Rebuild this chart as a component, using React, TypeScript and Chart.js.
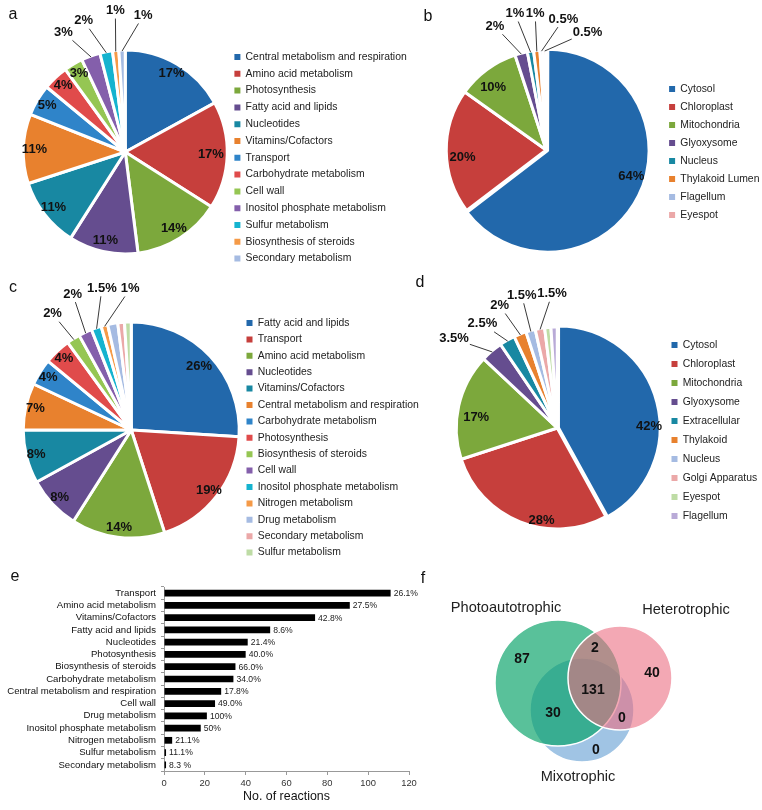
import React, { useEffect, useRef } from 'react';
import { Chart, registerables } from 'chart.js';

Chart.register(...registerables);

const FONT = "'Liberation Sans', Arial, Helvetica, sans-serif";
Chart.defaults.font.family = FONT;
Chart.defaults.color = '#222';

// ---------- colours ----------
const BLUE = '#2268ab';
const RED = '#c63f3c';
const GREEN = '#7ca83c';
const PURPLE = '#654d8f';
const TEAL = '#1888a2';
const ORANGE = '#e8812e';
const BLUE2 = '#2f84c9';
const RED2 = '#e04b4b';
const GREEN2 = '#95c653';
const PURPLE2 = '#845fab';
const CYAN = '#15b3cf';
const ORANGE2 = '#f59a47';
const PALEBLUE = '#a5bbe2';
const PALEPINK = '#eba8a8';
const PALEGREEN = '#bedca5';
const LAVENDER = '#b9aad7';

// ---------- panel a ----------
const A_CATEGORIES = [
  'Central metabolism and respiration', 'Amino acid metabolism', 'Photosynthesis',
  'Fatty acid and lipids', 'Nucleotides', 'Vitamins/Cofactors', 'Transport',
  'Carbohydrate metabolism', 'Cell wall', 'Inositol phosphate metabolism',
  'Sulfur metabolism', 'Biosynthesis of steroids', 'Secondary metabolism',
];
const A_PERCENT = [17, 17, 14, 11, 11, 11, 5, 4, 3, 3, 2, 1, 1];
const A_COLORS = [BLUE, RED, GREEN, PURPLE, TEAL, ORANGE, BLUE2, RED2, GREEN2, PURPLE2, CYAN, ORANGE2, PALEBLUE];

// ---------- panel b ----------
const B_COMPARTMENTS = ['Cytosol', 'Chloroplast', 'Mitochondria', 'Glyoxysome', 'Nucleus', 'Thylakoid Lumen', 'Flagellum', 'Eyespot'];
const B_PERCENT = [64, 20, 10, 2, 1, 1, 0.5, 0.5];
const B_COLORS = [BLUE, RED, GREEN, PURPLE, TEAL, ORANGE, PALEBLUE, PALEPINK];

// ---------- panel c ----------
const C_CATEGORIES = [
  'Fatty acid and lipids', 'Transport', 'Amino acid metabolism', 'Nucleotides',
  'Vitamins/Cofactors', 'Central metabolism and respiration', 'Carbohydrate metabolism',
  'Photosynthesis', 'Biosynthesis of steroids', 'Cell wall', 'Inositol phosphate metabolism',
  'Nitrogen metabolism', 'Drug metabolism', 'Secondary metabolism', 'Sulfur metabolism',
];
const C_PERCENT = [26, 19, 14, 8, 8, 7, 4, 4, 2, 2, 1.5, 1, 1.5, 1, 1];
const C_COLORS = [BLUE, RED, GREEN, PURPLE, TEAL, ORANGE, BLUE2, RED2, GREEN2, PURPLE2, CYAN, ORANGE2, PALEBLUE, PALEPINK, PALEGREEN];

// ---------- panel d ----------
const D_COMPARTMENTS = ['Cytosol', 'Chloroplast', 'Mitochondria', 'Glyoxysome', 'Extracellular', 'Thylakoid', 'Nucleus', 'Golgi Apparatus', 'Eyespot', 'Flagellum'];
const D_PERCENT = [42, 28, 17, 3.5, 2.5, 2, 1.5, 1.5, 1, 1];
const D_COLORS = [BLUE, RED, GREEN, PURPLE, TEAL, ORANGE, PALEBLUE, PALEPINK, PALEGREEN, LAVENDER];

// ---------- panel e ----------
const E_CATEGORIES = [
  'Transport', 'Amino acid metabolism', 'Vitamins/Cofactors', 'Fatty acid and lipids',
  'Nucleotides', 'Photosynthesis', 'Biosynthesis of steroids', 'Carbohydrate metabolism',
  'Central metabolism and respiration', 'Cell wall', 'Drug metabolism',
  'Inositol phosphate metabolism', 'Nitrogen metabolism', 'Sulfur metabolism', 'Secondary metabolism',
];
const E_REACTIONS = [111, 91, 74, 52, 41, 40, 35, 34, 28, 25, 21, 18, 4, 1, 1];
const E_PERCENT_LABELS = ['26.1%', '27.5%', '42.8%', '8.6%', '21.4%', '40.0%', '66.0%', '34.0%', '17.8%', '49.0%', '100%', '50%', '21.1%', '11.1%', '8.3 %'];
const E_TICKS = [0, 20, 40, 60, 80, 100, 120];

// ---------- panel f ----------
const VENN_SETS = ['Photoautotrophic', 'Heterotrophic', 'Mixotrophic'];
const VENN_CX = [0, 62, 24];
const VENN_CY = [0, 5, -27];
const VENN_R = [63, 52, 52];
const VENN_COLORS = ['rgba(0,160,100,0.65)', 'rgba(235,110,130,0.6)', 'rgba(97,157,210,0.6)'];
// regions: P only, H only, M only, P∩H, P∩M, H∩M, P∩H∩M
const VENN_COUNTS = [87, 40, 0, 2, 30, 0, 131];

// ---------- layout (annotation placement) ----------
type Place = Record<number, [number, number, boolean?]>;
const PLACE_A: Place = { 1: [0, 0.84], 9: [-7.5, 1.32, true], 10: [-6.8, 1.35, true], 11: [1.4, 1.39, true], 12: [9.3, 1.35, true] };
const PLACE_B: Place = { 0: [-10, 0.83], 1: [-4, 0.84], 2: [-4, 0.82], 3: [-8, 1.34, true], 4: [-3.8, 1.4, true], 5: [0.8, 1.37, true], 6: [10.2, 1.32, true], 7: [20.2, 1.25, true] };
const PLACE_C: Place = { 0: [0, 0.86], 8: [-1.7, 1.3, true], 9: [1.9, 1.37, true], 10: [7.2, 1.34, true], 11: [14, 1.31, true] };
const PLACE_D: Place = { 0: [14, 0.86], 1: [-12, 0.93], 2: [-5, 0.81], 3: [-8.7, 1.35, true], 4: [-6, 1.27, true], 5: [-3.6, 1.34, true], 6: [0.3, 1.36, true], 7: [7.7, 1.33, true] };

const VENN_COUNT_POS = [[-36, 24], [94, 10], [38, -67], [37, 35], [-5, -30], [64, -35], [35, -7]];
const VENN_TITLE_POS = [[-52, 75], [128, 73], [20, -94]];

const LETTERS: [string, number, number][] = [
  ['a', 13, 15], ['b', 428, 17], ['c', 13, 288], ['d', 420, 283], ['e', 15, 577], ['f', 423, 579],
];

function pieLabelPlugin(place: Place, defaultFactor: number, hidden: number[]) {
  return {
    id: 'pieLabels',
    afterDatasetsDraw(chart: any) {
      const ctx = chart.ctx;
      const meta = chart.getDatasetMeta(0);
      const values = chart.data.datasets[0].data;
      ctx.save();
      ctx.font = `bold 13px ${FONT}`;
      ctx.fillStyle = '#111';
      ctx.textAlign = 'center';
      ctx.textBaseline = 'middle';
      meta.data.forEach((el: any, i: number) => {
        if (hidden.includes(i)) return;
        const { x, y, startAngle, endAngle, outerRadius } = el.getProps(['x', 'y', 'startAngle', 'endAngle', 'outerRadius'], true);
        const off = (el.options && el.options.offset) || 0;
        const mid = (startAngle + endAngle) / 2;
        const cx = x + Math.cos(mid) * off;
        const cy = y + Math.sin(mid) * off;
        const p = place[i];
        const shift = p ? p[0] : 0;
        const f = p ? p[1] : defaultFactor;
        const outside = p ? !!p[2] : false;
        const a = mid + (shift * Math.PI) / 180;
        const lx = cx + Math.cos(a) * outerRadius * f;
        const ly = cy + Math.sin(a) * outerRadius * f;
        const text = values[i] + '%';
        if (outside) {
          const sx = cx + Math.cos(mid) * (outerRadius - 1);
          const sy = cy + Math.sin(mid) * (outerRadius - 1);
          const hw = ctx.measureText(text).width / 2 + 1;
          const hh = 8;
          const dx = sx - lx;
          const dy = sy - ly;
          const len = Math.hypot(dx, dy) || 1;
          const ux = dx / len;
          const uy = dy / len;
          const t = Math.min(Math.abs(ux) > 1e-6 ? hw / Math.abs(ux) : 1e9, Math.abs(uy) > 1e-6 ? hh / Math.abs(uy) : 1e9);
          ctx.beginPath();
          ctx.moveTo(sx, sy);
          ctx.lineTo(lx + ux * t, ly + uy * t);
          ctx.strokeStyle = '#222';
          ctx.lineWidth = 0.9;
          ctx.stroke();
        }
        ctx.fillText(text, lx, ly);
      });
      ctx.restore();
    },
  };
}

type PieProps = {
  left: number; top: number; width: number; height: number;
  labels: string[]; values: number[]; colors: string[]; offsets: number[];
  radius: number;
  cx: number; legendLeft: number; padTop: number; padBottom: number;
  legendPad: number; legendTitleH: number;
  place: Place; defaultFactor: number; hidden: number[];
};

function PiePanel(props: PieProps) {
  const ref = useRef<HTMLCanvasElement>(null);
  useEffect(() => {
    const p = props;
    const padLeft = 2 * p.cx - p.legendLeft;
    const chart = new Chart(ref.current as HTMLCanvasElement, {
      type: 'pie',
      data: {
        labels: p.labels,
        datasets: [{
          data: p.values,
          backgroundColor: p.colors,
          borderColor: '#ffffff',
          borderWidth: 3,
          offset: p.offsets,
        } as any],
      },
      options: {
        responsive: false,
        animation: false,
        events: [],
        radius: p.radius,
        layout: { padding: { left: padLeft, right: 0, top: p.padTop, bottom: p.padBottom }, autoPadding: false },
        plugins: {
          tooltip: { enabled: false },
          legend: {
            position: 'right',
            align: 'center',
            title: { display: true, text: ' ', font: { size: 1 }, padding: { top: p.legendTitleH - 1.2, bottom: 0 } },
            labels: {
              boxWidth: 6,
              boxHeight: 6,
              padding: p.legendPad,
              color: '#222',
              font: { size: 10.4, family: FONT },
              generateLabels: (c: any) =>
                c.data.labels.map((t: string, i: number) => ({
                  text: t,
                  fillStyle: p.colors[i],
                  strokeStyle: p.colors[i],
                  lineWidth: 0,
                  hidden: false,
                  index: i,
                  datasetIndex: 0,
                  fontColor: '#222',
                })),
            },
          },
        },
      } as any,
      plugins: [pieLabelPlugin(p.place, p.defaultFactor, p.hidden)],
    });
    // place the legend box so that it begins at legendLeft, and the pie stays centred on cx
    const lw = (chart as any).legend ? (chart as any).legend.width : 0;
    const padRight = Math.max(0, p.width - p.legendLeft - lw - 0.5);
    (chart.options as any).layout.padding = { left: padLeft, right: padRight, top: p.padTop, bottom: p.padBottom };
    chart.update();
    return () => chart.destroy();
  }, []);
  return (
    <canvas
      ref={ref}
      width={props.width}
      height={props.height}
      style={{ position: 'absolute', left: props.left, top: props.top, width: props.width, height: props.height }}
    />
  );
}

const barValuePlugin = {
  id: 'barValues',
  afterDatasetsDraw(chart: any) {
    const ctx = chart.ctx;
    const meta = chart.getDatasetMeta(0);
    ctx.save();
    ctx.font = `8.6px ${FONT}`;
    ctx.fillStyle = '#222';
    ctx.textAlign = 'left';
    ctx.textBaseline = 'middle';
    meta.data.forEach((bar: any, i: number) => {
      const { x, y } = bar.getProps(['x', 'y'], true);
      ctx.fillText(E_PERCENT_LABELS[i], x + 3, y + 0.5);
    });
    ctx.restore();
  },
};

function BarPanel() {
  const ref = useRef<HTMLCanvasElement>(null);
  useEffect(() => {
    const chart = new Chart(ref.current as HTMLCanvasElement, {
      type: 'bar',
      data: {
        labels: E_CATEGORIES,
        datasets: [{ data: E_REACTIONS, backgroundColor: '#000', barPercentage: 0.55, categoryPercentage: 1 }],
      },
      options: {
        indexAxis: 'y',
        responsive: false,
        animation: false,
        events: [],
        layout: { padding: { left: 0, right: 21, top: 17, bottom: 0 }, autoPadding: false },
        plugins: { legend: { display: false }, tooltip: { enabled: false } },
        scales: {
          x: {
            type: 'linear',
            min: 0,
            max: 120,
            afterBuildTicks: (s: any) => { s.ticks = E_TICKS.map((v) => ({ value: v })); },
            ticks: { font: { size: 9.4 }, color: '#333', padding: 3 },
            grid: { drawOnChartArea: false, tickLength: 4, color: '#999' },
            border: { color: '#999' },
            title: { display: true, text: 'No. of reactions', font: { size: 12.4 }, color: '#111', padding: { top: 0, bottom: 6 } },
            afterFit: (s: any) => { s.height = 39; },
          },
          y: {
            ticks: { font: { size: 9.6 }, color: '#111', padding: 5, autoSkip: false },
            grid: { offset: true, drawOnChartArea: false, tickLength: 3, color: '#999' },
            border: { color: '#999' },
            afterFit: (s: any) => { s.width = 164; },
          },
        },
      } as any,
      plugins: [barValuePlugin],
    });
    return () => chart.destroy();
  }, []);
  return <canvas ref={ref} width={430} height={240} style={{ position: 'absolute', left: 0, top: 570, width: 430, height: 240 }} />;
}

const vennTextPlugin = {
  id: 'vennText',
  afterDatasetsDraw(chart: any) {
    const ctx = chart.ctx;
    const xs = chart.scales.x;
    const ys = chart.scales.y;
    ctx.save();
    ctx.textAlign = 'center';
    ctx.textBaseline = 'middle';
    ctx.font = `14.6px ${FONT}`;
    ctx.fillStyle = '#222';
    VENN_SETS.forEach((name, k) => {
      ctx.fillText(name, xs.getPixelForValue(VENN_TITLE_POS[k][0]), ys.getPixelForValue(VENN_TITLE_POS[k][1]));
    });
    ctx.font = `bold 14px ${FONT}`;
    ctx.fillStyle = '#111';
    VENN_COUNTS.forEach((c, k) => {
      ctx.fillText(String(c), xs.getPixelForValue(VENN_COUNT_POS[k][0]), ys.getPixelForValue(VENN_COUNT_POS[k][1]));
    });
    ctx.restore();
  },
};

function VennPanel() {
  const ref = useRef<HTMLCanvasElement>(null);
  useEffect(() => {
    const drawOrder = [1, 0, 2]; // first dataset is painted on top
    const chart = new Chart(ref.current as HTMLCanvasElement, {
      type: 'bubble',
      data: {
        datasets: drawOrder.map((k) => ({
          label: VENN_SETS[k],
          data: [{ x: VENN_CX[k], y: VENN_CY[k], r: VENN_R[k] }],
          backgroundColor: VENN_COLORS[k],
          borderColor: '#ffffff',
          borderWidth: 1.5,
          clip: false,
        })),
      },
      options: {
        responsive: false,
        animation: false,
        events: [],
        layout: { padding: 0, autoPadding: false },
        plugins: { legend: { display: false }, tooltip: { enabled: false } },
        scales: {
          x: { type: 'linear', display: false, min: -138, max: 204 },
          y: { type: 'linear', display: false, min: -127, max: 113 },
        },
      } as any,
      plugins: [vennTextPlugin],
    });
    return () => chart.destroy();
  }, []);
  return <canvas ref={ref} width={342} height={240} style={{ position: 'absolute', left: 420, top: 570, width: 342, height: 240 }} />;
}

export default function App() {
  return (
    <div style={{ position: 'absolute', left: 0, top: 0, width: 762, height: 810, background: '#fff', overflow: 'hidden', fontFamily: FONT }}>
      <PiePanel
        left={0} top={0} width={420} height={290}
        labels={A_CATEGORIES} values={A_PERCENT} colors={A_COLORS} offsets={A_PERCENT.map(() => 0)}
        radius={102}
        cx={125} legendLeft={227.5} padTop={27} padBottom={13}
        legendPad={6.4} legendTitleH={11.6}
        place={PLACE_A} defaultFactor={0.89} hidden={[]}
      />
      <PiePanel
        left={380} top={0} width={410} height={290}
        labels={B_COMPARTMENTS} values={B_PERCENT} colors={B_COLORS} offsets={B_PERCENT.map((_, i) => (i === 0 ? 6 : 0))}
        radius={100}
        cx={166} legendLeft={281} padTop={25} padBottom={15}
        legendPad={7.6} legendTitleH={4}
        place={PLACE_B} defaultFactor={0.86} hidden={[]}
      />
      <PiePanel
        left={0} top={280} width={430} height={290}
        labels={C_CATEGORIES} values={C_PERCENT} colors={C_COLORS} offsets={C_PERCENT.map(() => 0)}
        radius={108}
        cx={131} legendLeft={240} padTop={10} padBottom={0}
        legendPad={6} legendTitleH={15.6}
        place={PLACE_C} defaultFactor={0.91} hidden={[12, 13, 14]}
      />
      <PiePanel
        left={380} top={280} width={410} height={290}
        labels={D_COMPARTMENTS} values={D_PERCENT} colors={D_COLORS} offsets={D_PERCENT.map((_, i) => (i === 0 ? 5 : 0))}
        radius={101}
        cx={177} legendLeft={282.4} padTop={13} padBottom={7}
        legendPad={8.6} legendTitleH={5}
        place={PLACE_D} defaultFactor={0.88} hidden={[8, 9]}
      />
      <BarPanel />
      <VennPanel />
      {LETTERS.map(([t, x, y]) => (
        <div
          key={t}
          style={{ position: 'absolute', left: x, top: y, transform: 'translate(-50%, -55%)', fontSize: 16, lineHeight: 1, color: '#111', fontFamily: FONT }}
        >
          {t}
        </div>
      ))}
    </div>
  );
}
